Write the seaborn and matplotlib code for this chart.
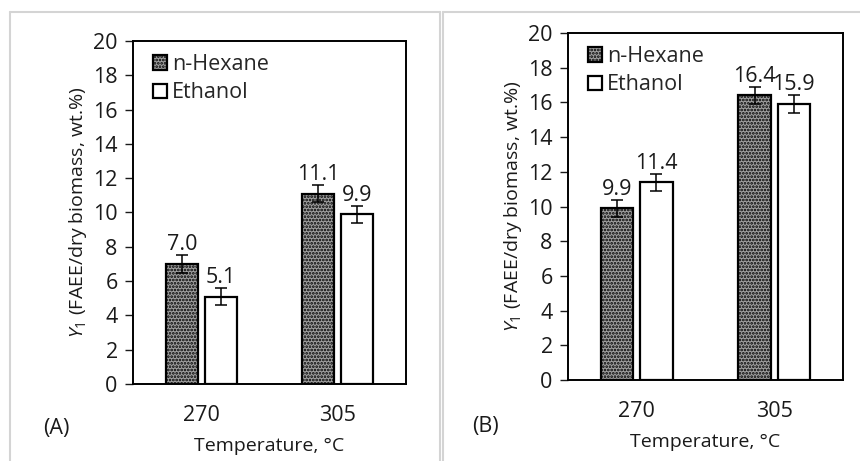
import matplotlib
matplotlib.use('Agg')
import matplotlib.pyplot as plt
import seaborn as sns
import pandas as pd
from matplotlib.lines import Line2D

# data
temperatures = ['270', '305']
solvents = ['n-Hexane', 'Ethanol']
hexane_A = [7.0, 11.1]
ethanol_A = [5.1, 9.9]
hexane_B = [9.9, 16.4]
ethanol_B = [11.4, 15.9]
err_A = [0.5, 0.5, 0.5, 0.5]   # hexane 270, hexane 305, ethanol 270, ethanol 305
err_B = [0.5, 0.5, 0.5, 0.5]

sns.set_theme(style='white')
plt.rcParams['font.family'] = ['Open Sans', 'DejaVu Sans']
plt.rcParams['mathtext.fontset'] = 'custom'
plt.rcParams['mathtext.it'] = 'Open Sans:italic'
plt.rcParams['mathtext.rm'] = 'Open Sans'
plt.rcParams['hatch.linewidth'] = 1.3
FS = 15.5      # ticks, values, legend
FS_LAB = 14    # axis labels
TXT = '#1a1a1a'


def make_df(hex_vals, eth_vals):
    rows = []
    for t, v in zip(temperatures, hex_vals):
        rows.append({'temp': t, 'solvent': 'n-Hexane', 'value': v})
    for t, v in zip(temperatures, eth_vals):
        rows.append({'temp': t, 'solvent': 'Ethanol', 'value': v})
    return pd.DataFrame(rows)


def draw_panel(ax, df, errs, tag, tag_xy):
    sns.barplot(data=df, x='temp', y='value', hue='solvent', hue_order=solvents,
                order=temperatures, palette=['#a0a0a0', 'white'], width=0.57, gap=0.17,
                edgecolor='black', linewidth=1.6, errorbar=None, ax=ax)
    bars = [p for p in ax.patches if p.get_height() > 0]
    for i, p in enumerate(bars):
        if i < 2:
            p.set_hatch('.....')
        cx = p.get_x() + p.get_width() / 2
        h = p.get_height()
        ax.errorbar(cx, h, yerr=errs[i], color='black', capsize=4, lw=1.1, capthick=1.1)
        ax.annotate(f'{h:.1f}', (cx, h + errs[i]), xytext=(0, 0), textcoords='offset points',
                    ha='center', va='bottom', fontsize=FS, color=TXT)
    ax.set_ylim(0, 20)
    ax.set_yticks(range(0, 21, 2))
    ax.set_xlim(-0.5, 1.5)
    ax.tick_params(axis='y', left=True, direction='out', length=6, width=1, labelsize=FS, pad=5, colors=TXT)
    ax.tick_params(axis='x', bottom=False, labelsize=FS, pad=9, colors=TXT)
    for s in ax.spines.values():
        s.set_color('black')
        s.set_linewidth(1.4)
    ax.set_xlabel('Temperature, °C', fontsize=FS_LAB, labelpad=8, color=TXT)
    ax.set_ylabel(r'$Y_1$ (FAEE/dry biomass, wt.%)', fontsize=FS_LAB, color=TXT, labelpad=3)
    leg = ax.legend(loc='upper left', bbox_to_anchor=(0.025, 1), frameon=False, fontsize=FS,
                    handlelength=0.65, handleheight=0.65, handletextpad=0.25, labelspacing=0.35,
                    borderaxespad=0.2, borderpad=0.4)
    leg.legend_handles[0].set_hatch('.....')
    ax.text(tag_xy[0], tag_xy[1], tag, transform=ax.transAxes, fontsize=FS, color=TXT,
            ha='left', va='center')


fig = plt.figure(figsize=(8.6, 4.61), dpi=100)

# light panel frames
for x0, x1 in [(10, 440), (443, 860)]:
    fig.add_artist(Line2D([x0 / 860, x0 / 860], [0, 1 - 12 / 461], color='#d4d4d4', lw=1.5))
    fig.add_artist(Line2D([x0 / 860, x1 / 860], [1 - 12 / 461, 1 - 12 / 461], color='#d4d4d4', lw=1.5))
fig.add_artist(Line2D([440 / 860, 440 / 860], [0, 1 - 12 / 461], color='#d4d4d4', lw=1.5))

axA = fig.add_axes([133 / 860, 77 / 461, 273 / 860, 343 / 461])
axB = fig.add_axes([568 / 860, 81 / 461, 275 / 860, 347 / 461])

draw_panel(axA, make_df(hexane_A, ethanol_A), err_A, '(A)', (-0.33, -0.131))
draw_panel(axB, make_df(hexane_B, ethanol_B), err_B, '(B)', (-0.349, -0.135))

fig.savefig('out.png', dpi=100)
